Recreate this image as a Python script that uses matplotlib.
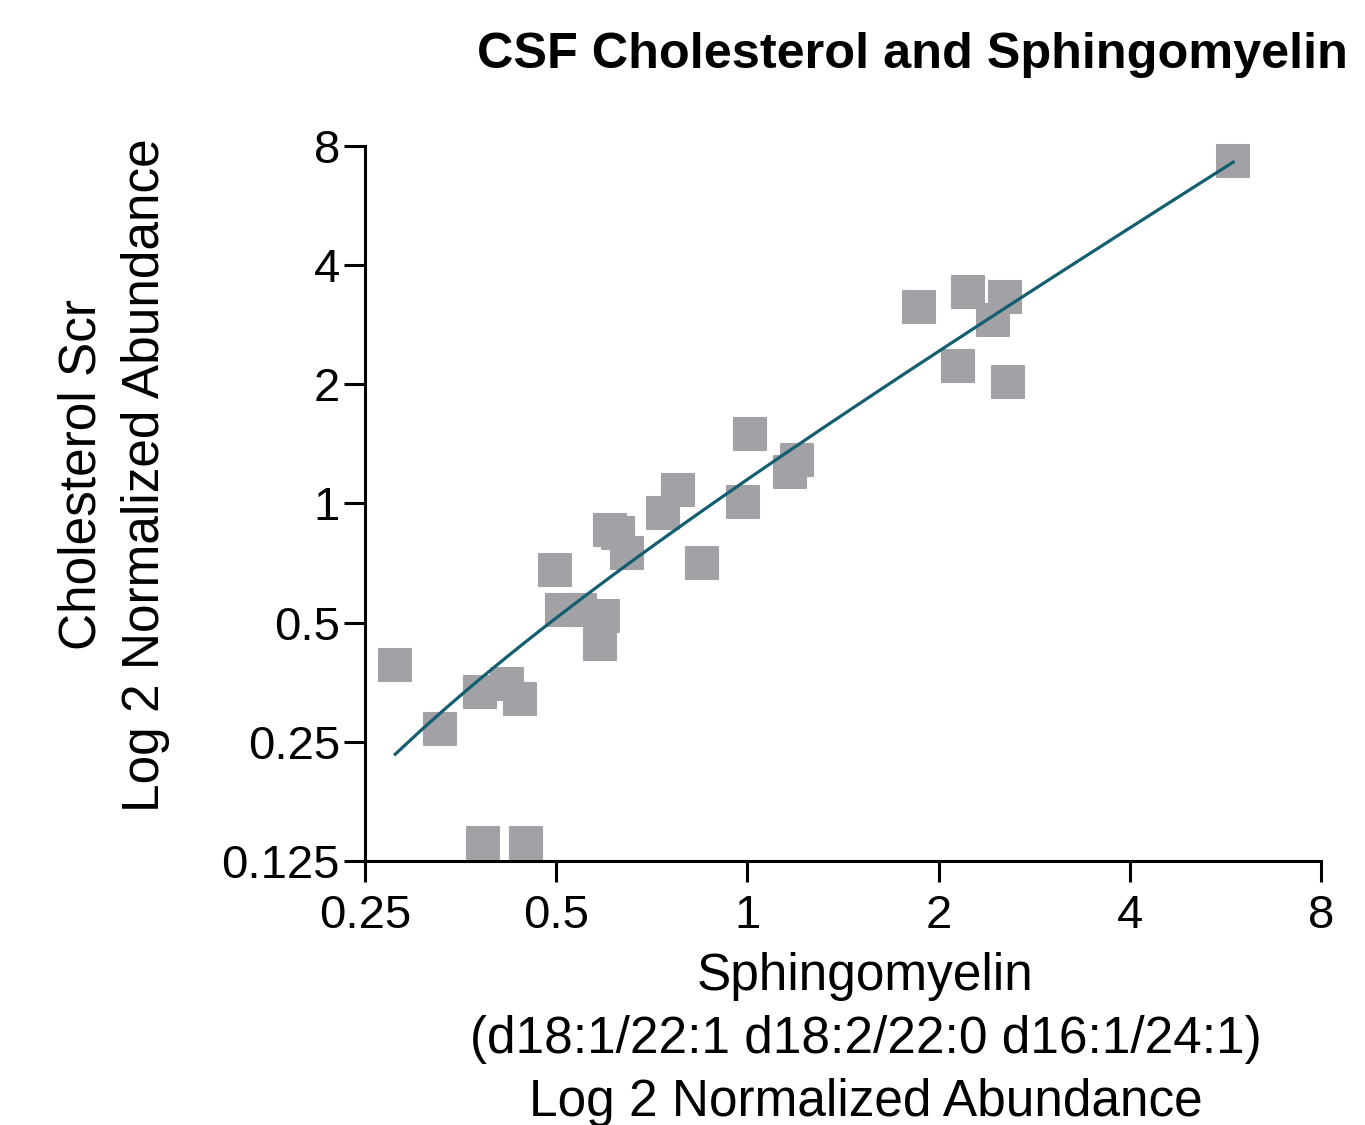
import matplotlib.pyplot as plt
import numpy as np
from matplotlib.markers import MarkerStyle

plt.rcParams["font.family"] = ["Liberation Sans", "DejaVu Sans"]

# Sphingomyelin (x) and cholesterol (y), normalized abundance
sphingomyelin = [0.279, 0.328, 0.379, 0.418, 0.438, 0.383, 0.448, 0.497, 0.511, 0.545,
                 0.592, 0.586, 0.608, 0.626, 0.646, 0.737, 0.778, 0.849, 0.984, 1.01,
                 1.167, 1.197, 1.86, 2.145, 2.225, 2.44, 2.54, 2.57, 5.82]
cholesterol = [0.391, 0.270, 0.334, 0.350, 0.321, 0.139, 0.139, 0.680, 0.539, 0.539,
               0.520, 0.442, 0.858, 0.84, 0.750, 0.947, 1.08, 0.708, 1.009, 1.50,
               1.20, 1.29, 3.14, 2.23, 3.42, 2.91, 3.32, 2.03, 7.33]
y_ticks = [0.125, 0.25, 0.5, 1, 2, 4, 8]
y_tick_labels = ["0.125", "0.25", "0.5", "1", "2", "4", "8"]
x_ticks = [0.25, 0.5, 1, 2, 4, 8]
x_tick_labels = ["0.25", "0.5", "1", "2", "4", "8"]

x = np.array(sphingomyelin)
y = np.array(cholesterol)
slope, intercept = np.polyfit(x, y, 1)
fit_x = np.linspace(x.min(), x.max(), 200)
fit_y = intercept + slope * fit_x

fig = plt.figure(figsize=(13.65, 11.25), dpi=100)
ax = fig.add_axes([0.2674, 0.2347, 0.7004, 0.6355])

marker = MarkerStyle("s", joinstyle="round")
ax.plot(x, y, linestyle="none", marker=marker, markersize=23,
        color="#a2a1a6", markeredgecolor="#a2a1a6", markeredgewidth=1.5,
        clip_on=False, zorder=2)
ax.plot(fit_x, fit_y, color="#135e6f", linewidth=2.3, zorder=3)

ax.set_xscale("log", base=2)
ax.set_yscale("log", base=2)
ax.set_xlim(0.25, 8)
ax.set_ylim(0.125, 8)
ax.set_xticks(x_ticks)
ax.set_xticklabels(x_tick_labels)
ax.set_yticks(y_ticks)
ax.set_yticklabels(y_tick_labels)
ax.minorticks_off()

for side in ["top", "right"]:
    ax.spines[side].set_visible(False)
for side in ["left", "bottom"]:
    ax.spines[side].set_linewidth(2.2)
ax.tick_params(length=15, width=2.2, labelsize=34)
ax.tick_params(axis="x", pad=9)
ax.tick_params(axis="y", pad=3)

fig.text(0.3495, 0.951, "CSF Cholesterol and Sphingomyelin", ha="left", va="center",
         fontsize=36.3, fontweight="bold")
fig.text(0.083, 0.578, "Cholesterol Scr\nLog 2 Normalized Abundance", rotation=90,
         ha="center", va="center", fontsize=37, linespacing=1.38)
fig.text(0.634, 0.076, "Sphingomyelin\n(d18:1/22:1 d18:2/22:0 d16:1/24:1)\nLog 2 Normalized Abundance",
         ha="center", va="center", fontsize=37, linespacing=1.38)

fig.savefig("out.png", dpi=100)
